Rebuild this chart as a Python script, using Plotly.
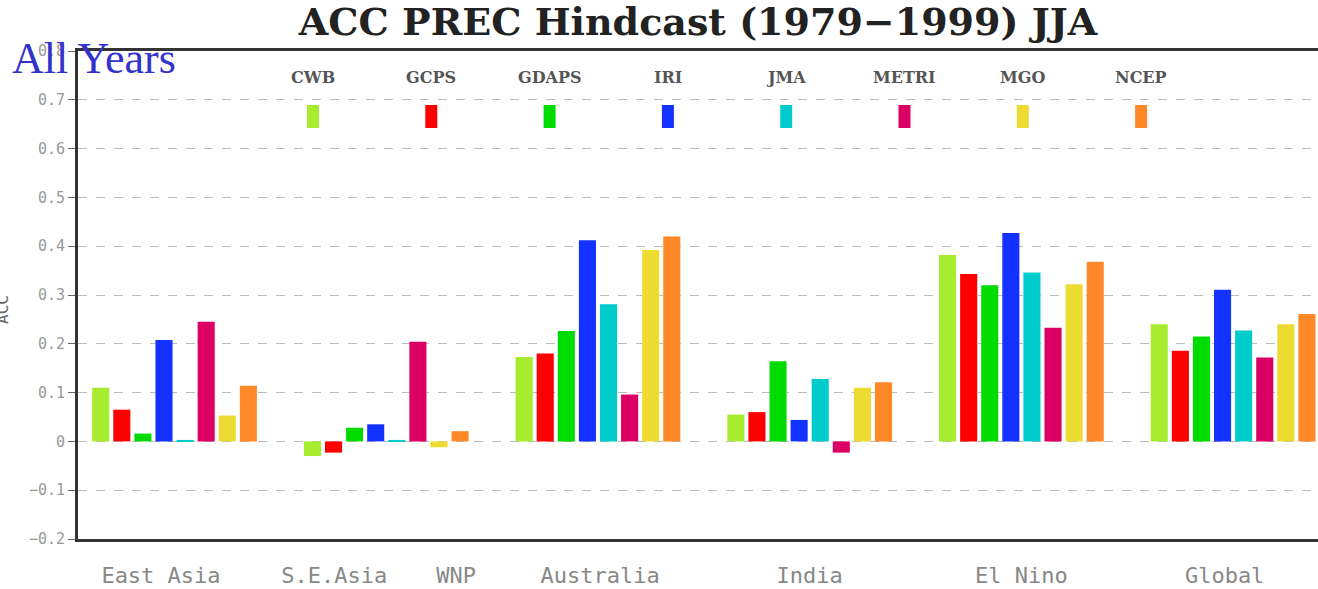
import plotly.graph_objects as go

# regions that carry a bar group, and the tick labels printed under the axis
groups = ["East Asia", "S.E.Asia/WNP", "Australia", "India", "El Nino", "Global"]
tick_labels = ["East Asia", "S.E.Asia", "WNP", "Australia", "India", "El Nino", "Global"]
tick_pos = [-0.064, 0.754, 1.33, 2.01, 3.0, 4.0, 4.96]
y_ticks = [-0.2, -0.1, 0, 0.1, 0.2, 0.3, 0.4, 0.5, 0.6, 0.7, 0.8]
y_tick_text = ["\u22120.2", "\u22120.1", "0", "0.1", "0.2", "0.3", "0.4", "0.5", "0.6", "0.7", "0.8"]

models = ["CWB", "GCPS", "GDAPS", "IRI", "JMA", "METRI", "MGO", "NCEP"]
colors = ["#a8ec30", "#ff0000", "#00dc00", "#1432ff", "#00cccc", "#dc0064", "#ecdc32", "#ff8828"]

cwb = [0.110, -0.030, 0.173, 0.055, 0.382, 0.240]
gcps = [0.065, -0.023, 0.180, 0.060, 0.343, 0.186]
gdaps = [0.016, 0.028, 0.226, 0.164, 0.320, 0.215]
iri = [0.208, 0.035, 0.412, 0.044, 0.427, 0.311]
jma = [0.003, 0.003, 0.281, 0.128, 0.346, 0.227]
metri = [0.245, 0.204, 0.096, -0.023, 0.233, 0.172]
mgo = [0.053, -0.012, 0.392, 0.110, 0.322, 0.240]
ncep = [0.114, 0.021, 0.420, 0.121, 0.368, 0.261]
values = [cwb, gcps, gdaps, iri, jma, metri, mgo, ncep]

W, H = 1318, 589
L, R, T, B = 78, 0, 51, 50
pw, ph = W - L - R, H - T - B

fig = go.Figure()
for name, col, vals in zip(models, colors, values):
    fig.add_trace(go.Bar(x=list(range(len(groups))), y=vals, name=name,
                         marker=dict(color=col, line_width=0), showlegend=False))

# GrADS-style legend: label above a small coloured block, evenly spaced
for i, (name, col) in enumerate(zip(models, colors)):
    cx = (313 + 118.3 * i - L) / pw
    fig.add_shape(type="rect", xref="paper", yref="paper",
                  x0=cx - 6 / pw, x1=cx + 6 / pw,
                  y0=(H - B - 128) / ph, y1=(H - B - 105) / ph,
                  fillcolor=col, line_width=0)
    fig.add_annotation(text="<b>" + name + "</b>", xref="paper", yref="paper",
                       x=cx, y=(H - B - 78) / ph,
                       showarrow=False, xanchor="center", yanchor="middle",
                       font=dict(family="DejaVu Serif", size=16, color="#555555"))

fig.add_annotation(text="All Years", xref="paper", yref="paper",
                   x=(10 - L) / pw, y=(H - B - 58) / ph, xanchor="left", yanchor="middle",
                   showarrow=False,
                   font=dict(family="Liberation Serif", size=44, color="#3333cc"))
fig.add_annotation(text="ACC", xref="paper", yref="paper", textangle=-90,
                   x=(2 - L) / pw, y=(H - B - 310) / ph, xanchor="center", yanchor="middle",
                   showarrow=False,
                   font=dict(family="DejaVu Sans Mono", size=16, color="#666666"))

fig.update_layout(
    width=W, height=H, margin=dict(l=L, r=R, t=T, b=B, autoexpand=False),
    paper_bgcolor="white", plot_bgcolor="white",
    barmode="group", bargap=0.203, bargroupgap=0.19,
    title=dict(text="<b>ACC PREC Hindcast (1979\u22121999) JJA</b>",
               xref="paper", x=0.5, xanchor="center", y=1 - 22 / H, yanchor="middle",
               font=dict(family="DejaVu Serif", size=38, color="#222222")),
    xaxis=dict(range=[-0.456, 5.401], tickvals=tick_pos, ticktext=tick_labels,
               automargin=False,
               showgrid=False, zeroline=False, ticks="", ticklabelstandoff=15,
               showline=True, linecolor="#333333", linewidth=3, mirror=True,
               tickfont=dict(family="DejaVu Sans Mono", size=22, color="#888888")),
    yaxis=dict(range=[-0.2, 0.8], tickvals=y_ticks, ticktext=y_tick_text,
               automargin=False,
               showgrid=True, griddash="dash", gridcolor="#bbbbbb", gridwidth=1,
               zeroline=False, ticks="outside", ticklen=7, tickcolor="#666666",
               showline=True, linecolor="#333333", linewidth=3,
               tickfont=dict(family="DejaVu Sans Mono", size=15, color="#999999")),
)

# drop the browser's default body margin so the figure sits at the page corner
fig.write_html("out.html", config={"displayModeBar": False},
               post_script="document.body.style.margin='0';")
